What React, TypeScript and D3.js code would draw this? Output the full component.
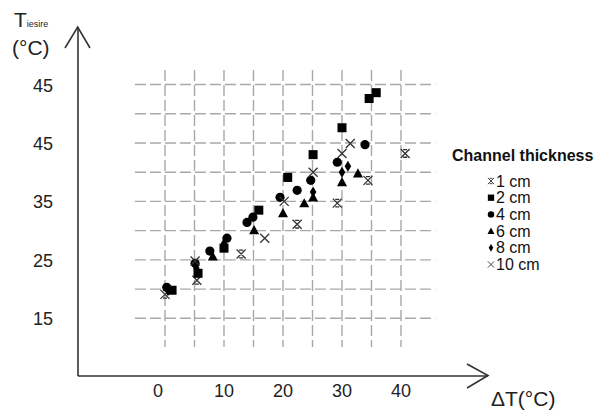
import React from 'react';
import * as d3 from 'd3';

// ΔT (°C) and outlet temperature (°C) per channel thickness
const series1cm = [[0, 19.1], [5.4, 21.5], [12.9, 26.0], [22.4, 31.1], [29.2, 34.7], [34.4, 38.6], [40.7, 43.2]];
const series2cm = [[1.2, 19.8], [5.6, 22.7], [10.0, 27.0], [15.9, 33.5], [20.8, 39.1], [25.1, 43.0], [30.0, 47.6], [34.6, 52.6], [35.8, 53.6]];
const series4cm = [[0.3, 20.3], [5.1, 24.4], [7.6, 26.5], [10.5, 28.7], [13.9, 31.4], [14.9, 32.3], [19.5, 35.7], [22.4, 36.9], [24.7, 38.6], [29.2, 41.7], [33.9, 44.7]];
const series6cm = [[8.1, 25.6], [15.1, 30.1], [20.0, 33.0], [23.6, 34.7], [25.1, 35.7], [30.0, 38.3], [32.7, 39.8]];
const series8cm = [[0.5, 19.7], [5.3, 23.6], [10.0, 27.8], [25.1, 36.6], [30.0, 40.0], [31.0, 41.0]];
const series10cm = [[5.1, 24.8], [16.9, 28.7], [20.2, 35.0], [25.1, 40.0], [30.0, 43.2], [31.4, 44.9]];

const seriesNames = ['1 cm', '2 cm', '4 cm', '6 cm', '8 cm', '10 cm'];
const seriesShapes = ['barcross', 'square', 'circle', 'triangle', 'diamond', 'cross'];
const allSeries = [series1cm, series2cm, series4cm, series6cm, series8cm, series10cm];

const xTicks = [0, 10, 20, 30, 40];
const yTicks = [55, 45, 35, 25, 15];
const yTickLabels = ['45', '45', '35', '25', '15']; // as printed in the figure
const xGridValues = d3.range(0, 45, 5);
const yGridValues = d3.range(15, 60, 5);

const W = 600;
const H = 412;
const FONT = 'Liberation Sans, Arial, sans-serif';

const x = d3.scaleLinear().domain([0, 40]).range([165, 401]);
const y = d3.scaleLinear().domain([15, 55]).range([318.3, 84.5]);

const axisX = 78;
const axisY = 376;

function Marker({ shape, cx, cy, s = 1 }) {
    const t = `translate(${cx},${cy}) scale(${s})`;
    switch (shape) {
        case 'square':
            return <rect x={-4.5} y={-4.5} width={9} height={9} fill="#000" transform={t} />;
        case 'circle':
            return <circle r={4.6} fill="#000" transform={t} />;
        case 'triangle':
            return <path d="M0,-5L5,4.2L-5,4.2Z" fill="#000" transform={t} />;
        case 'diamond':
            return <path d="M0,-5.5L3.3,0L0,5.5L-3.3,0Z" fill="#000" transform={t} />;
        case 'cross':
            return <path d="M-4.5,-4.5L4.5,4.5M4.5,-4.5L-4.5,4.5" stroke="#333" strokeWidth={1.3} fill="none" transform={t} />;
        default:
            return (
                <path
                    d="M-4.5,-4.5L4.5,4.5M4.5,-4.5L-4.5,4.5M-2,-3.8L2,-3.8M-2,3.8L2,3.8"
                    stroke="#333"
                    strokeWidth={1.3}
                    fill="none"
                    transform={t}
                />
            );
    }
}

export default function App() {
    const gridColor = '#a8a8a8';
    return (
        <svg
            width={W}
            height={H}
            style={{ position: 'absolute', left: 0, top: 0, background: '#fff' }}
        >
            {/* dashed grid */}
            <g stroke={gridColor} strokeWidth={1.4} strokeDasharray="11 4">
                {yGridValues.map((v) => (
                    <line key={'h' + v} x1={x(-5.1)} x2={x(45.8)} y1={y(v)} y2={y(v)} />
                ))}
                {xGridValues.map((v) => (
                    <line key={'v' + v} x1={x(v)} x2={x(v)} y1={y(57.5)} y2={y(10.1)} />
                ))}
            </g>

            {/* axes with open arrows */}
            <g stroke="#333" strokeWidth={1.6} fill="none">
                <line x1={axisX} y1={27} x2={axisX} y2={axisY} />
                <line x1={axisX} y1={axisY} x2={488} y2={axisY} />
                <path d="M65,48L77.7,27L90,48" />
                <path d="M467,364L488,375.5L467,388" />
            </g>

            {/* tick labels */}
            <g fontFamily={FONT} fontSize={18} fill="#222">
                {yTicks.map((v, i) => (
                    <text key={v} x={53} y={y(v) + 7} textAnchor="end">
                        {yTickLabels[i]}
                    </text>
                ))}
                {xTicks.map((v) => (
                    <text key={v} x={x(v) + (v === 0 ? -7 : 0)} y={397} textAnchor="middle">
                        {v}
                    </text>
                ))}
            </g>

            {/* axis titles */}
            <g fontFamily={FONT} fill="#222">
                <text x={14} y={27} fontSize={21}>
                    T
                    <tspan fontSize={9}>iesire</tspan>
                </text>
                <text x={12} y={55} fontSize={21}>(°C)</text>
                <text x={491} y={406} fontSize={21}>ΔT(°C)</text>
            </g>

            {/* data points */}
            {allSeries.map((pts, si) => (
                <g key={seriesNames[si]}>
                    {pts.map((d, i) => (
                        <Marker key={i} shape={seriesShapes[si]} cx={x(d[0])} cy={y(d[1])} />
                    ))}
                </g>
            ))}

            {/* legend */}
            <g fontFamily={FONT} fill="#111">
                <text x={452} y={161} fontSize={16} fontWeight="bold">Channel thickness</text>
                {seriesNames.map((name, i) => (
                    <g key={name} transform={`translate(0,${181 + i * 16.7})`}>
                        <Marker shape={seriesShapes[i]} cx={491} cy={0} s={0.7} />
                        <text x={496} y={5.5} fontSize={16}>{name}</text>
                    </g>
                ))}
            </g>
        </svg>
    );
}
